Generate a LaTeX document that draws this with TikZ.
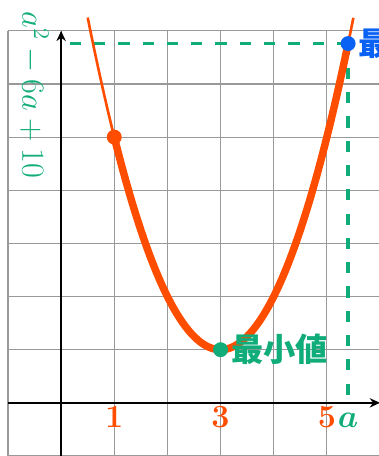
\documentclass[tikz,border=0pt]{standalone}
\usepackage{fontspec}
\usetikzlibrary{arrows.meta}
\newfontfamily\jpfont{Noto Sans CJK JP}
\definecolor{curvered}{RGB}{255,77,0}
\definecolor{mingreen}{RGB}{16,172,122}
\definecolor{maxblue}{RGB}{10,98,245}

\begin{document}
\begin{tikzpicture}[
  font=\LARGE,
  gridline/.style={draw=gray!80, line width=0.6pt},
  axis/.style={draw=black, line width=1pt, -{Stealth[length=5.5pt,width=5pt]}},
  guide/.style={draw=mingreen, line width=1.8pt, dash pattern=on 6pt off 7pt},
  curvethin/.style={draw=curvered, line width=1.4pt},
  curvethick/.style={draw=curvered, line width=4pt},
  dot/.style={circle, inner sep=0pt, minimum size=8pt},
  ticklbl/.style={anchor=base, text=curvered, font=\LARGE\bfseries},
  mathlbl/.style={anchor=base, text=mingreen, font=\LARGE},
  varlbl/.style={mathlbl, font=\LARGE\boldmath},
  jplbl/.style={anchor=west, inner sep=0pt, font=\LARGE\bfseries\jpfont},
]

\clip (-1.15,-1) rectangle (5.98,7.58);

% grid and axes
\draw[gridline] (-1,-1) grid (6,7);

\coordinate (xl) at (-1,0);
\coordinate (xr) at (6,0);
\coordinate (yb) at (0,-1);
\coordinate (yt) at (0,7);
\draw[axis] (xl) -- (xr);
\draw[axis] (yb) -- (yt);

% maximum and its projections
\coordinate (max) at (5.4,6.76);
\coordinate (maxx) at (5.4,0);
\coordinate (maxy) at (0,6.76);
\draw[guide] (max) -- (maxy);
\draw[guide] (max) -- (maxx);

% parabola a^2-6a+10
\draw[curvethin, domain=0.5:5.5, samples=80] plot (\x, {(\x-3)^2+1});
\draw[curvethick, domain=1:5.4, samples=80] plot (\x, {(\x-3)^2+1});

% points
\node[dot, fill=curvered] (p1) at (1,5) {};
\node[dot, fill=mingreen] (pmin) at (3,1) {};
\node[dot, fill=maxblue] (pmax) at (max) {};

% labels
\node[ticklbl] (t1) at (1,-0.47) {1};
\node[ticklbl] (t3) at (3,-0.47) {3};
\node[ticklbl] (t5) at (5,-0.47) {5};
\node[varlbl] (alab) at (5.4,-0.47) {$a$};
\node[mathlbl, rotate=-90] (flab) at (-0.73,5.79) {$a^2-6a+10$};

\node[jplbl, text=mingreen, xshift=5.5pt] (minlab) at (pmin) {最小値};
\node[jplbl, text=maxblue, xshift=5.5pt] (maxlab) at (pmax) {最大値};

\end{tikzpicture}
\end{document}
